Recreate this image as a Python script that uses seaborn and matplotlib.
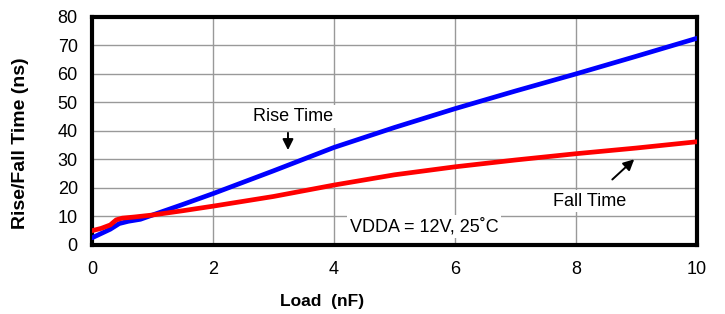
import matplotlib
matplotlib.use("Agg")
import matplotlib.pyplot as plt
import seaborn as sns
import pandas as pd

rise_x = [0, 0.15, 0.3, 0.45, 0.6, 0.8, 1.0, 1.5, 2, 3, 4, 5, 6, 7, 8, 9, 10]
rise_y = [2.5, 4.0, 5.5, 7.5, 8.3, 9.0, 10.5, 14.2, 18.0, 26.0, 34.2, 41.2, 47.8, 54.0, 60.0, 66.2, 72.5]
fall_x = [0, 0.15, 0.3, 0.4, 0.5, 0.7, 1.0, 1.5, 2, 3, 4, 5, 6, 7, 8, 9, 10]
fall_y = [5.0, 5.8, 7.0, 8.8, 9.4, 9.8, 10.5, 12.0, 13.6, 17.0, 21.0, 24.6, 27.4, 29.8, 32.0, 34.0, 36.2]

x_ticks = [0, 2, 4, 6, 8, 10]
y_ticks = [0, 10, 20, 30, 40, 50, 60, 70, 80]

sns.set_style("white")
plt.rcParams['font.family'] = ['Liberation Sans', 'DejaVu Sans']
plt.rcParams['text.color'] = 'black'
plt.rcParams['axes.labelcolor'] = 'black'

fig = plt.figure(figsize=(7.25, 3.14), dpi=100)
ax = fig.add_axes([0.127, 0.220, 0.834, 0.726])

df_r = pd.DataFrame({"x": rise_x, "y": rise_y})
df_f = pd.DataFrame({"x": fall_x, "y": fall_y})
sns.lineplot(data=df_r, x="x", y="y", ax=ax, color="#0000ff", linewidth=3.4, zorder=4)
sns.lineplot(data=df_f, x="x", y="y", ax=ax, color="#ff0000", linewidth=3.4, zorder=5)

ax.set_xlim(0, 10)
ax.set_ylim(0, 80)
ax.set_xticks(x_ticks)
ax.set_yticks(y_ticks)
ax.grid(True, color="#999999", linewidth=1.0)
ax.set_axisbelow(True)
for s in ax.spines.values():
    s.set_color("black")
    s.set_linewidth(3)
    s.set_visible(True)
ax.tick_params(axis="both", direction="out", length=4.3, width=1, color="#888888",
               labelsize=13, labelcolor="black")
ax.tick_params(axis="y", pad=6)
ax.tick_params(axis="x", pad=7.5)
ax.set_xlabel("Load  (nF)", fontsize=12.5, fontweight="bold", color="black")
ax.xaxis.set_label_coords(0.38, -0.215)
ax.set_ylabel("Rise/Fall Time (ns)", fontsize=14, fontweight="bold", color="black")
ax.yaxis.set_label_coords(-0.105, 0.447)

bbox = dict(facecolor="white", edgecolor="none", pad=2)
ax.text(3.32, 45.0, "Rise Time", fontsize=13, ha="center", va="center", color="black",
        bbox=bbox, zorder=3)
ax.annotate("", xy=(3.24, 32.3), xytext=(3.24, 40.3),
            arrowprops=dict(arrowstyle="-|>", color="black", lw=1.4, mutation_scale=16), zorder=6)
ax.text(8.23, 15.4, "Fall Time", fontsize=13, ha="center", va="center", color="black",
        bbox=bbox, zorder=3)
ax.annotate("", xy=(9.0, 30.7), xytext=(8.57, 22.3),
            arrowprops=dict(arrowstyle="-|>", color="black", lw=1.4, mutation_scale=16), zorder=6)
ax.text(4.26, 6.5, "VDDA = 12V, 25\u02daC", fontsize=13, ha="left", va="center", color="black",
        bbox=bbox, zorder=3)

fig.savefig("out.png", dpi=100)
